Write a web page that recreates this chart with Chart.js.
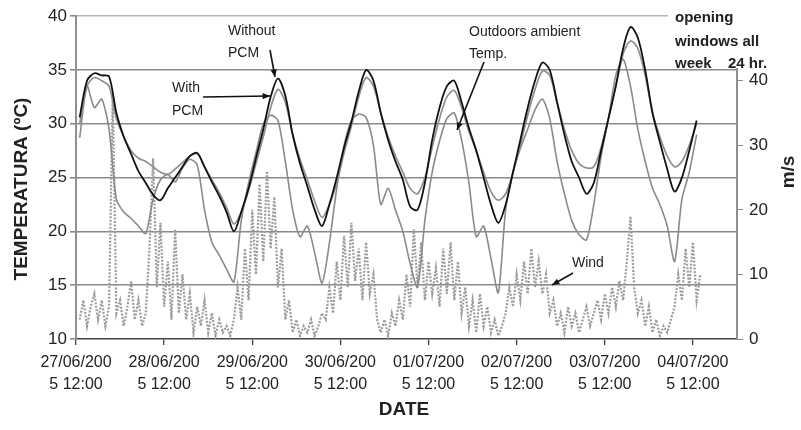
<!DOCTYPE html>
<html>
<head>
<meta charset="utf-8">
<script src="https://cdn.jsdelivr.net/npm/chart.js@4"></script>
<style>
  body { margin: 0; background: #fff; }
  canvas { display: block; }
</style>
</head>
<body>
<canvas id="grafico" width="801" height="430"></canvas>
<script>
// hours counted from 27/06/2005 12:00
const tickHours = [0, 24, 48, 72, 96, 120, 144, 168];
const dayLabels = [
    ["27/06/200", "5 12:00"], ["28/06/200", "5 12:00"], ["29/06/200", "5 12:00"], ["30/06/200", "5 12:00"],
    ["01/07/200", "5 12:00"], ["02/07/200", "5 12:00"], ["03/07/200", "5 12:00"], ["04/07/200", "5 12:00"]
];

// temperatures every 2 h starting at hour 1
const tempStart = 1;
const tempStep = 2;
const withoutPcm = [
    30.6, 34.0, 34.7, 34.5, 34.4, 31.0, 28.8, 27.2, 25.6, 24.5, 23.4, 22.9,
    24.0, 25.0, 26.0, 27.0, 27.3, 26.0, 24.6, 23.3, 21.8, 20.0, 21.8, 24.0,
    26.8, 29.5, 32.5, 34.2, 32.6, 29.0, 26.3, 24.2, 22.0, 20.5, 22.5, 25.0,
    27.8, 30.2, 33.0, 35.0, 34.0, 31.0, 28.5, 26.5, 24.8, 22.3, 22.0, 24.5,
    28.5, 31.5, 33.5, 34.0, 32.0, 29.6, 27.5, 25.0, 22.5, 20.8, 22.5, 25.5,
    28.5, 31.5, 34.0, 35.7, 35.0, 32.0, 29.0, 26.5, 25.0, 23.5, 24.5, 27.5,
    30.5, 33.5, 37.0, 39.0, 38.0, 35.0, 31.0, 28.3, 25.8, 23.7, 25.0, 27.5,
    30.3
];
const withPcm = [
    30.0, 33.5, 34.3, 34.0, 33.5, 30.5, 28.8, 27.5, 26.8, 26.5, 26.0, 25.5,
    25.3, 25.8, 26.4, 27.0, 27.2, 26.0, 24.8, 23.6, 22.2, 20.7, 21.8, 23.8,
    26.3, 28.8, 31.5, 33.2, 32.0, 29.0, 26.7, 24.8, 22.8, 21.3, 22.5, 24.5,
    27.3, 29.8, 32.5, 34.3, 33.5, 31.0, 28.8, 27.0, 25.5, 24.0, 23.5, 25.0,
    27.8, 30.5, 32.5, 33.1, 31.5, 29.3, 27.5, 25.5, 23.7, 22.9, 23.5, 25.5,
    28.0, 30.8, 33.2, 34.9, 34.5, 32.0, 29.5, 27.5, 26.3, 25.9, 26.0, 27.8,
    30.5, 33.5, 36.5, 37.7, 37.0, 34.5, 31.0, 28.8, 27.0, 26.0, 26.5, 28.0,
    30.0
];
const outdoorTemp = [
    28.7, 33.5, 31.5, 32.3, 29.5, 23.0, 21.8, 21.2, 20.5, 19.8, 23.0, 24.8,
    25.3, 24.6, 25.9, 26.7, 26.2, 22.0, 19.0, 17.8, 16.5, 15.3, 21.0, 24.5,
    27.3, 30.0, 30.8, 30.3, 26.5, 22.0, 19.5, 20.5, 18.0, 15.2, 18.9, 24.0,
    28.0, 30.3, 30.9, 30.6, 28.0, 22.5, 24.0, 22.0, 20.0, 17.0, 14.8, 21.0,
    25.5, 28.4, 30.5, 31.0, 28.5, 24.5, 19.5, 20.5, 17.5, 14.3, 22.0, 25.5,
    27.7, 29.5, 31.3, 32.3, 30.5, 26.5, 23.5, 21.0, 19.7, 19.2, 22.5, 27.0,
    30.5, 34.5, 36.0, 33.5, 29.5, 26.5, 24.0, 22.5, 20.5, 17.2, 23.0, 25.5,
    29.0
];

// wind (m/s) every hour starting at hour 1
const windStart = 1;
const windStep = 1;
const windSpeed = [
    3, 6, 2, 5, 7, 3, 6, 2, 5, 38, 4, 6, 2, 5, 9, 3, 6, 2, 4, 14, 28, 8, 18, 5,
    12, 3, 17, 4, 10, 3, 7, 1, 5, 2, 6, 1, 4, 0.5, 3, 1, 2, 0.5, 3, 8, 3, 14, 6, 20,
    10, 24, 12, 26, 14, 22, 8, 14, 3, 6, 1, 3, 0.5, 2, 1, 3, 0.5, 2, 4, 3, 8, 4, 12, 6,
    16, 8, 18, 9, 14, 6, 15, 7, 10, 3, 1, 3, 0.5, 4, 2, 6, 3, 10, 5, 17, 8, 15, 6, 12,
    7, 11, 5, 14, 7, 15, 6, 12, 4, 8, 2, 6, 1, 7, 2, 5, 1, 3, 0.5, 2, 4, 8, 5, 10,
    6, 12, 7, 14, 8, 12, 7, 10, 4, 6, 2, 4, 1, 5, 2, 4, 1, 3, 5, 2, 4, 6, 3, 7,
    4, 8, 5, 9, 6, 12, 19, 8, 4, 6, 2, 5, 1, 3, 0.5, 2, 1, 3, 5, 10, 6, 14, 8, 15,
    6, 10
];

const FONT = "'Liberation Sans', Arial, sans-serif";

function toPoints(values, start, step) {
    return values.map((v, i) => ({ x: start + i * step, y: v }));
}

function arrow(ctx, x1, y1, x2, y2) {
    const ang = Math.atan2(y2 - y1, x2 - x1);
    ctx.beginPath();
    ctx.moveTo(x1, y1);
    ctx.lineTo(x2, y2);
    ctx.stroke();
    ctx.beginPath();
    ctx.moveTo(x2, y2);
    ctx.lineTo(x2 - 8 * Math.cos(ang - 0.4), y2 - 8 * Math.sin(ang - 0.4));
    ctx.lineTo(x2 - 8 * Math.cos(ang + 0.4), y2 - 8 * Math.sin(ang + 0.4));
    ctx.closePath();
    ctx.fill();
}

const textosPlugin = {
    id: "textos",
    afterDraw(chart) {
        const ctx = chart.ctx;
        ctx.save();

        // box "opening windows all week 24 hr."
        ctx.fillStyle = "#fff";
        ctx.fillRect(668, 0, 133, 68);
        ctx.fillStyle = "#222";
        ctx.font = "bold 15px " + FONT;
        ctx.textBaseline = "middle";
        ctx.textAlign = "left";
        ctx.fillText("opening", 675, 18);
        ctx.fillText("windows all", 675, 42);
        ctx.fillText("week", 675, 64);
        ctx.fillText("24 hr.", 728, 64);

        // axis titles
        ctx.font = "bold 19px " + FONT;
        ctx.textAlign = "center";
        ctx.fillText("DATE", 404, 410);
        ctx.save();
        ctx.translate(22, 189);
        ctx.rotate(-Math.PI / 2);
        ctx.fillText("TEMPERATURA (ºC)", 0, 0);
        ctx.restore();
        ctx.save();
        ctx.translate(789, 172);
        ctx.rotate(-Math.PI / 2);
        ctx.fillText("m/s", 0, 0);
        ctx.restore();

        // annotations
        ctx.font = "14px " + FONT;
        ctx.textAlign = "left";
        ctx.fillText("Without", 228, 31);
        ctx.fillText("PCM", 228, 53);
        ctx.fillText("With", 172, 88);
        ctx.fillText("PCM", 172, 111);
        ctx.fillText("Outdoors ambient", 469, 32);
        ctx.fillText("Temp.", 469, 54);
        ctx.fillText("Wind", 572, 263);

        ctx.strokeStyle = "#111";
        ctx.fillStyle = "#111";
        ctx.lineWidth = 1.6;
        arrow(ctx, 270, 50, 275, 77);
        arrow(ctx, 203, 97, 270, 96);
        arrow(ctx, 484, 62, 457, 130);
        arrow(ctx, 573, 273, 552, 285);
        ctx.restore();
    }
};

new Chart(document.getElementById("grafico").getContext("2d"), {
    type: "line",
    data: {
        datasets: [
            {
                label: "Without PCM",
                data: toPoints(withoutPcm, tempStart, tempStep),
                borderColor: "#111",
                borderWidth: 1.8,
                pointRadius: 0,
                tension: 0.3,
                yAxisID: "y",
                order: 1
            },
            {
                label: "With PCM",
                data: toPoints(withPcm, tempStart, tempStep),
                borderColor: "#8f8f8f",
                borderWidth: 1.7,
                pointRadius: 0,
                tension: 0.3,
                yAxisID: "y",
                order: 2
            },
            {
                label: "Outdoors ambient Temp.",
                data: toPoints(outdoorTemp, tempStart, tempStep),
                borderColor: "#8a8a8a",
                borderWidth: 1.6,
                pointRadius: 0,
                tension: 0.25,
                yAxisID: "y",
                order: 3
            },
            {
                label: "Wind",
                data: toPoints(windSpeed, windStart, windStep),
                borderColor: "#9c9c9c",
                borderWidth: 2.2,
                borderDash: [2, 1.5],
                pointRadius: 0,
                tension: 0,
                yAxisID: "y2",
                order: 4
            }
        ]
    },
    options: {
        responsive: false,
        animation: false,
        devicePixelRatio: 1,
        layout: { padding: { top: 15, left: 0, right: 0, bottom: 0 } },
        plugins: {
            legend: { display: false },
            tooltip: { enabled: false }
        },
        scales: {
            x: {
                type: "linear",
                min: 0,
                max: 180,
                afterFit: s => { s.height = 91; },
                afterBuildTicks: s => { s.ticks = tickHours.map(v => ({ value: v })); },
                ticks: {
                    autoSkip: false,
                    maxRotation: 0,
                    padding: 7,
                    color: "#222",
                    font: { family: FONT, size: 16, lineHeight: 1.35 },
                    callback: (v) => dayLabels[tickHours.indexOf(v)]
                },
                grid: { drawOnChartArea: false, drawTicks: true, tickLength: 6, color: "#444", lineWidth: 1.3 },
                border: { color: "#444", width: 1.5 }
            },
            y: {
                position: "left",
                min: 10,
                max: 40,
                afterFit: s => { s.width = 76; },
                ticks: {
                    stepSize: 5,
                    padding: 3,
                    color: "#222",
                    font: { family: FONT, size: 17 }
                },
                grid: {
                    color: c => c.tick.value === 40 ? "#b5b5b5" : (c.tick.value === 10 ? "rgba(0,0,0,0)" : "#8a8a8a"),
                    lineWidth: 1.6,
                    tickLength: 6,
                    tickColor: "#8a8a8a"
                },
                border: { color: "#8f8f8f", width: 2 }
            },
            y2: {
                position: "right",
                min: 0,
                max: 50,
                afterFit: s => { s.width = 64; },
                ticks: {
                    stepSize: 10,
                    padding: 6,
                    color: "#222",
                    font: { family: FONT, size: 17 }
                },
                grid: { drawOnChartArea: false, tickLength: 6, color: "#8a8a8a" },
                border: { color: "#8f8f8f", width: 2 }
            }
        }
    },
    plugins: [textosPlugin]
});
</script>
</body>
</html>
